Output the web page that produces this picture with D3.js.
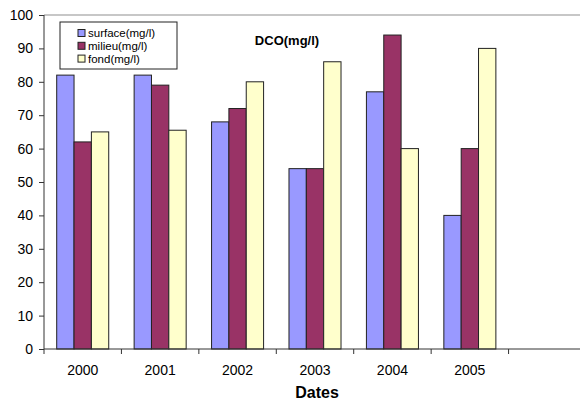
<!DOCTYPE html>
<html>
<head>
<meta charset="utf-8">
<script src="https://cdn.jsdelivr.net/npm/d3@7"></script>
<style>
  body { margin: 0; background: #fff; }
  text { font-family: Arial, "Liberation Sans", sans-serif; }
</style>
</head>
<body>
<svg id="chart" width="580" height="400"></svg>
<script>
// data
var years = ["2000", "2001", "2002", "2003", "2004", "2005", ""];
var surface = [82, 82, 68, 54, 77, 40];
var milieu = [62, 79, 72, 54, 94, 60];
var fond = [65, 65.5, 80, 86, 60, 90];
var seriesNames = ["surface(mg/l)", "milieu(mg/l)", "fond(mg/l)"];
var yTicks = [0, 10, 20, 30, 40, 50, 60, 70, 80, 90, 100];

var colors = ["#9999ff", "#993366", "#ffffcc"];
var allSeries = [surface, milieu, fond];

var svg = d3.select("#chart");

var x = d3.scaleBand()
    .domain(years)
    .range([44, 586]);

var inner = d3.scaleBand()
    .domain([0, 1, 2])
    .range([12.7, x.bandwidth() - 12.7]);

var y = d3.scaleLinear()
    .domain([0, 100])
    .range([349, 15]);

// top border line of plot area
svg.append("line")
    .attr("x1", 44).attr("x2", 580)
    .attr("y1", y(100)).attr("y2", y(100))
    .attr("stroke", "#b4b4b4")
    .attr("stroke-width", 1.5);

// bars
allSeries.forEach(function(vals, s) {
  svg.append("g")
    .selectAll("rect")
    .data(vals)
    .enter().append("rect")
      .attr("x", function(d, i) { return x(years[i]) + inner(s); })
      .attr("y", function(d) { return y(d); })
      .attr("width", inner.bandwidth())
      .attr("height", function(d) { return y(0) - y(d); })
      .attr("fill", colors[s])
      .attr("stroke", "#222")
      .attr("stroke-width", 1);
});

// y axis
var yAxis = svg.append("g")
    .attr("transform", "translate(44,0)")
    .call(d3.axisLeft(y).tickValues(yTicks).tickSize(5).tickPadding(6));
yAxis.selectAll("text").attr("font-size", 14).attr("fill", "#000")
    .style("font-family", "Arial, 'Liberation Sans', sans-serif");
yAxis.selectAll("line, path").attr("stroke", "#333");
yAxis.select(".domain").attr("d", "M0," + y(0) + "V" + y(100));

// x axis
var xAxis = svg.append("g")
    .attr("transform", "translate(0," + y(0) + ")");
xAxis.append("line")
    .attr("x1", 44).attr("x2", 580)
    .attr("stroke", "#333");
xAxis.selectAll(".tk")
    .data(years)
    .enter().append("line")
      .attr("class", "tk")
      .attr("x1", function(d) { return x(d); })
      .attr("x2", function(d) { return x(d); })
      .attr("y1", 0).attr("y2", 5)
      .attr("stroke", "#333");
xAxis.selectAll(".lbl")
    .data(years)
    .enter().append("text")
      .attr("class", "lbl")
      .attr("x", function(d) { return x(d) + x.bandwidth() / 2; })
      .attr("y", 26)
      .attr("text-anchor", "middle")
      .attr("font-size", 14)
      .text(function(d) { return d; });

// titles
svg.append("text")
    .attr("x", 287).attr("y", 45)
    .attr("text-anchor", "middle")
    .attr("font-size", 13)
    .attr("font-weight", "bold")
    .text("DCO(mg/l)");

svg.append("text")
    .attr("x", 317).attr("y", 398)
    .attr("text-anchor", "middle")
    .attr("font-size", 16)
    .attr("font-weight", "bold")
    .text("Dates");

// legend
var legend = svg.append("g").attr("transform", "translate(60,22)");
legend.append("rect")
    .attr("width", 117).attr("height", 47)
    .attr("fill", "#fff")
    .attr("stroke", "#222");
var item = legend.selectAll(".item")
    .data(seriesNames)
    .enter().append("g")
      .attr("transform", function(d, i) { return "translate(18," + (11 + i * 12.8) + ")"; });
item.append("rect")
    .attr("y", -3.5)
    .attr("width", 7).attr("height", 7)
    .attr("fill", function(d, i) { return colors[i]; })
    .attr("stroke", "#222");
item.append("text")
    .attr("x", 10).attr("y", 4)
    .attr("font-size", 11.5)
    .text(function(d) { return d; });
</script>
</body>
</html>
